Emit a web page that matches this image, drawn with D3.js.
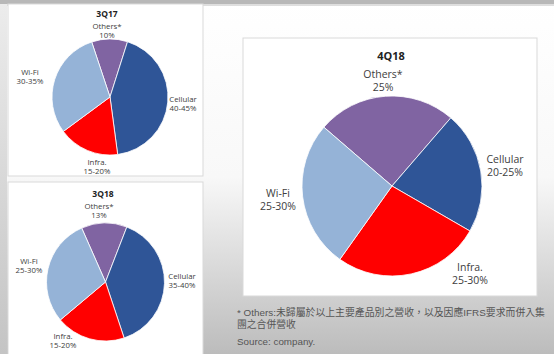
<!DOCTYPE html>
<html><head><meta charset="utf-8">
<script src="https://cdn.jsdelivr.net/npm/d3@7"></script>
<style>html,body{margin:0;padding:0;overflow:hidden;background:#fff}</style>
</head><body>
<script>
const categories = ["Others*", "Cellular", "Infra.", "Wi-Fi"];
const colors = ["#8064A2", "#2F5597", "#FF0000", "#95B3D7"];
const titles = ["3Q17", "3Q18", "4Q18"];
const values3Q17 = [10, 43, 17, 30];
const values3Q18 = [12.5, 39, 19, 29.5];
const values4Q18 = [25, 22, 26.5, 26.5];
const labels3Q17 = ["10%", "40-45%", "15-20%", "30-35%"];
const labels3Q18 = ["13%", "35-40%", "15-20%", "25-30%"];
const labels4Q18 = ["25%", "20-25%", "25-30%", "25-30%"];
const footnote1 = "* Others:未歸屬於以上主要產品別之營收，以及因應IFRS要求而併入集";
const footnote2 = "團之合併營收";
const source = "Source: company.";

const W = 554, H = 354;
const svg = d3.select("body").append("svg").attr("width", W).attr("height", H);
const defs = svg.append("defs");
const g = defs.append("linearGradient").attr("id", "bg").attr("x1", 0).attr("y1", 0).attr("x2", 0).attr("y2", 1);
g.append("stop").attr("offset", "0").attr("stop-color", "#ffffff");
g.append("stop").attr("offset", "0.5").attr("stop-color", "#f8f8f8");
g.append("stop").attr("offset", "1").attr("stop-color", "#bcbcbc");
svg.append("rect").attr("width", W).attr("height", H).attr("fill", "url(#bg)");
svg.append("rect").attr("width", W).attr("height", 4).attr("fill", "#b8b8b8");
svg.append("rect").attr("y", 4).attr("width", W).attr("height", 2).attr("fill", "#dedede");
const lg = defs.append("linearGradient").attr("id", "lbg").attr("x1", 0).attr("y1", 0).attr("x2", 0).attr("y2", 1);
lg.append("stop").attr("offset", "0").attr("stop-color", "#ececec");
lg.append("stop").attr("offset", "1").attr("stop-color", "#c4c4c4");
svg.append("rect").attr("y", 4).attr("width", 7).attr("height", H - 4).attr("fill", "url(#lbg)");

const panels = [
  {x: 8, y: 4, w: 195, h: 172},
  {x: 8, y: 182, w: 195, h: 180},
  {x: 243, y: 38, w: 294, h: 258}
];
panels.forEach(p => {
  svg.append("rect").attr("x", p.x).attr("y", p.y).attr("width", p.w).attr("height", p.h)
    .attr("fill", "#fff").attr("stroke", "#d9d9d9").attr("stroke-width", 1);
});

const charts = [
  {values: values3Q17, labels: labels3Q17, title: titles[0], cx: 110, cy: 97, r: 58, start: -18.4,
   fs: 7.8, tfs: 8.5, lh: 9.3, titlePos: [107, 17],
   lpos: [[107, 28.5], [183, 102], [97, 165], [30, 75]]},
  {values: values3Q18, labels: labels3Q18, title: titles[1], cx: 105.5, cy: 282, r: 59, start: -23.8,
   fs: 7.8, tfs: 8.5, lh: 9.3, titlePos: [103, 197],
   lpos: [[99, 208.5], [182, 279], [63, 339], [29, 264]]},
  {values: values4Q18, labels: labels4Q18, title: titles[2], cx: 392, cy: 186, r: 90, start: -49.2,
   fs: 10.5, tfs: 11, lh: 13, titlePos: [391, 60],
   lpos: [[383, 77.5], [505, 163], [470, 271], [278, 197]]}
];

charts.forEach(c => {
  const data = categories.map((k, i) => ({k, v: c.values[i], label: c.labels[i], color: colors[i]}));
  const a0 = c.start * Math.PI / 180;
  const pie = d3.pie().value(d => d.v).sort(null).startAngle(a0).endAngle(a0 + 2 * Math.PI);
  const arc = d3.arc().innerRadius(0).outerRadius(c.r);
  const gg = svg.append("g").attr("transform", `translate(${c.cx},${c.cy})`);
  gg.selectAll("path").data(pie(data)).join("path")
    .attr("d", arc).attr("fill", d => d.data.color)
    .attr("stroke", "#ffffff").attr("stroke-width", 0.8);
  svg.append("text").attr("x", c.titlePos[0]).attr("y", c.titlePos[1])
    .attr("text-anchor", "middle").attr("font-family", "Open Sans, Liberation Sans, sans-serif")
    .attr("font-weight", "bold").attr("font-size", c.tfs).attr("fill", "#222").text(c.title);
  data.forEach((d, i) => {
    const t = svg.append("text").attr("x", c.lpos[i][0]).attr("y", c.lpos[i][1])
      .attr("text-anchor", "middle").attr("font-family", "Open Sans, Liberation Sans, sans-serif")
      .attr("font-size", c.fs).attr("fill", "#404040");
    t.append("tspan").attr("x", c.lpos[i][0]).text(d.k);
    t.append("tspan").attr("x", c.lpos[i][0]).attr("dy", c.lh).text(d.label);
  });
});

const ff = "Liberation Sans, Arial, Noto Sans CJK TC, sans-serif";
svg.append("text").attr("x", 237).attr("y", 316).attr("font-family", ff).attr("font-size", 9.8)
  .attr("fill", "#555").attr("textLength", 308).attr("lengthAdjust", "spacingAndGlyphs").text(footnote1);
svg.append("text").attr("x", 237).attr("y", 328).attr("font-family", ff).attr("font-size", 9.8)
  .attr("fill", "#555").text(footnote2);
svg.append("text").attr("x", 237).attr("y", 345).attr("font-family", ff).attr("font-size", 9.8)
  .attr("fill", "#555").text(source);
</script>
</body></html>
